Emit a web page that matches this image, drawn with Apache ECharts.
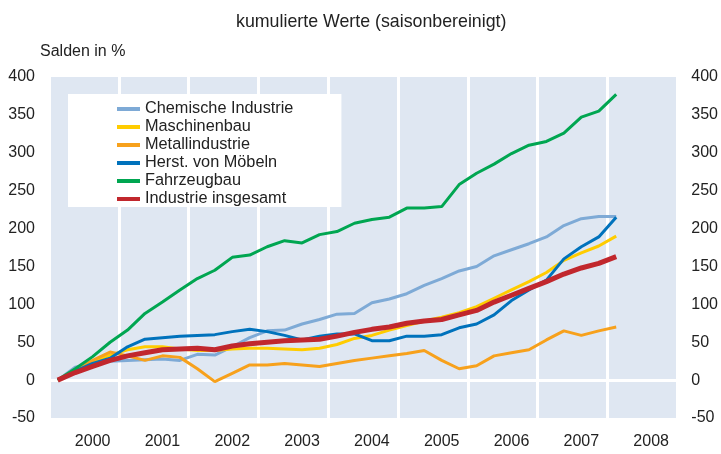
<!DOCTYPE html>
<html>
<head>
<meta charset="utf-8">
<script src="https://cdn.jsdelivr.net/npm/echarts@6/dist/echarts.min.js"></script>
<style>
  html, body { margin: 0; padding: 0; background: #fff; }
  #chart { width: 721px; height: 454px; }
</style>
</head>
<body>
<div id="chart"></div>
<script>
// quarterly values, Q1 2000 .. Q1 2008
const years = ['2000', '2001', '2002', '2003', '2004', '2005', '2006', '2007', '2008'];
const quarters = ['Q1', 'Q2', 'Q3', 'Q4'];

const chemie = [0, 17, 22, 25, 26, 27, 28, 26, 34, 33, 44, 56, 65, 66, 74, 80, 87, 88, 102, 107, 114, 125, 134, 144, 150, 164, 172, 180, 189, 204, 213, 216, 216];
const maschinenbau = [0, 14, 24, 33, 40, 44, 44, 41, 39, 39, 41, 42, 42, 41, 40, 42, 47, 55, 59, 66, 72, 78, 83, 89, 97, 108, 119, 130, 142, 158, 168, 177, 190];
const metall = [0, 13, 26, 37, 32, 26, 32, 30, 15, -2, 9, 20, 20, 22, 20, 18, 22, 26, 29, 32, 35, 39, 26, 15, 19, 32, 36, 40, 53, 65, 59, 65, 70];
const moebel = [0, 12, 22, 29, 44, 54, 56, 58, 59, 60, 64, 67, 64, 59, 53, 58, 61, 61, 52, 52, 58, 58, 60, 69, 74, 86, 105, 119, 132, 160, 176, 189, 215];
const fahrzeug = [0, 15, 31, 50, 66, 88, 103, 119, 134, 145, 162, 165, 176, 184, 181, 192, 196, 207, 212, 215, 227, 227, 229, 258, 273, 285, 299, 310, 315, 326, 347, 355, 377];
const insgesamt = [0, 10, 18, 26, 32, 36, 40, 41, 42, 40, 45, 48, 50, 52, 53, 54, 58, 63, 67, 70, 75, 78, 80, 86, 92, 103, 112, 121, 130, 140, 148, 154, 163];

const names = ['Chemische Industrie', 'Maschinenbau', 'Metallindustrie', 'Herst. von Möbeln', 'Fahrzeugbau', 'Industrie insgesamt'];
const colors = ['#7eaad6', '#ffcc00', '#f7a11c', '#0072bc', '#00a651', '#c1272d'];

let categories = [];
years.forEach(y => quarters.forEach(q => categories.push(y + ' ' + q)));

const font = 'Liberation Sans, Arial, sans-serif';
const textColor = '#222';

let chart = echarts.init(document.getElementById('chart'));

function makeLine (name, data, color, width) {
    return {
        name: name,
        type: 'line',
        data: data,
        symbol: 'none',
        smooth: false,
        lineStyle: { color: color, width: width },
        itemStyle: { color: color }
    };
}

// only the zero line is drawn (white)
let zeroLine = ['rgba(0,0,0,0)', '#ffffff'];
for (let i = 0; i < 8; i++) zeroLine.push('rgba(0,0,0,0)');

chart.setOption({
    animation: false,
    textStyle: { fontFamily: font },
    title: [
        {
            text: 'kumulierte Werte (saisonbereinigt)',
            left: 231,
            top: 8,
            textStyle: { fontSize: 17.8, fontWeight: 'normal', color: textColor, fontFamily: font }
        },
        {
            text: 'Salden in %',
            left: 35,
            top: 39,
            textStyle: { fontSize: 16, fontWeight: 'normal', color: textColor, fontFamily: font }
        }
    ],
    legend: {
        orient: 'vertical',
        left: 68,
        top: 94,
        padding: [7, 48, 0, 49],
        backgroundColor: '#ffffff',
        itemWidth: 23,
        itemHeight: 4,
        itemGap: 2,
        itemTextGap: 3,
        icon: 'rect',
        data: names,
        textStyle: { fontSize: 16.3, color: textColor, fontFamily: font }
    },
    grid: {
        left: 49,
        right: 38,
        top: 77,
        bottom: 36,
        show: true,
        backgroundColor: '#dfe7f2',
        borderWidth: 0
    },
    xAxis: {
        type: 'category',
        data: categories,
        boundaryGap: true,
        axisLine: { show: false },
        axisTick: { show: false },
        axisLabel: {
            interval: (index) => index % 4 === 2,
            formatter: (value) => value.slice(0, 4),
            margin: 16,
            fontSize: 16,
            color: textColor,
            fontFamily: font
        },
        splitLine: {
            show: true,
            interval: 3,
            lineStyle: { color: '#ffffff', width: 3 }
        }
    },
    yAxis: [
        {
            type: 'value',
            min: -50,
            max: 400,
            interval: 50,
            position: 'left',
            axisLine: { show: false },
            axisTick: { show: false },
            axisLabel: { margin: 14, fontSize: 16, color: textColor, fontFamily: font },
            splitLine: { show: true, lineStyle: { color: zeroLine, width: 3 } }
        },
        {
            type: 'value',
            min: -50,
            max: 400,
            interval: 50,
            position: 'right',
            axisLine: { show: false },
            axisTick: { show: false },
            axisLabel: { margin: 14, fontSize: 16, color: textColor, fontFamily: font },
            splitLine: { show: false }
        }
    ],
    series: [
        makeLine(names[0], chemie, colors[0], 3),
        makeLine(names[1], maschinenbau, colors[1], 3),
        makeLine(names[2], metall, colors[2], 3),
        makeLine(names[3], moebel, colors[3], 3),
        makeLine(names[4], fahrzeug, colors[4], 3),
        makeLine(names[5], insgesamt, colors[5], 5)
    ]
});
</script>
</body>
</html>
